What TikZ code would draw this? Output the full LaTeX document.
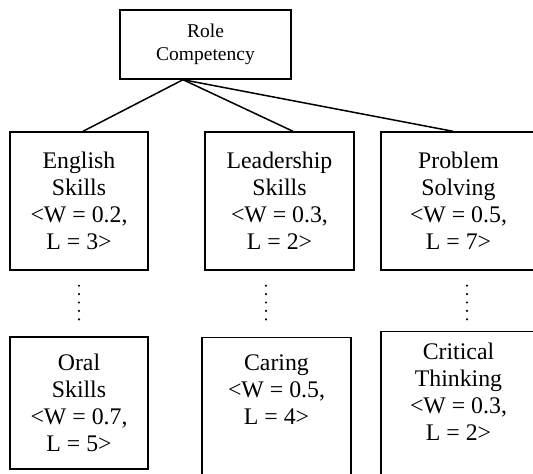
\documentclass[tikz,border=0pt]{standalone}
\usepackage{fontspec}
\setmainfont{Liberation Serif}
\usetikzlibrary{positioning}

\begin{document}
\begin{tikzpicture}[
    x=1pt, y=-1pt,
    root/.style={rectangle, draw=black, line width=1.4pt, align=center,
                 minimum width=171pt, minimum height=69pt, inner sep=0pt,
                 font=\fontsize{19.5}{23}\selectfont},
    skill/.style={rectangle, draw=black, line width=1.4pt, align=center,
                  inner sep=0pt, font=\fontsize{23.8}{27}\selectfont},
    link/.style={line width=1.5pt},
    dots/.style={line width=2.4pt, line cap=round, dash pattern=on 0pt off 8.4pt}
]
\useasboundingbox (0,0) rectangle (533,474);
\clip (0,0) rectangle (533,474);

% Root
\node (role) [root] at (205.5,44.5) {Role\\Competency};
\coordinate (hub) at ([xshift=-22.5pt]role.south);

% Main skills
\node (english) [skill, minimum width=138pt, minimum height=138pt] at (79,201)
      {English\\Skills\\<W = 0.2,\\L = 3>};
\node (lead) [skill, minimum width=149pt, minimum height=138pt] at (279.5,201)
      {Leadership\\Skills\\<W = 0.3,\\L = 2>};
\node (prob) [skill, minimum width=155pt, minimum height=138pt] at (458.5,201)
      {Problem\\Solving\\<W = 0.5,\\L = 7>};

% Sub skills
\node (oral) [skill, minimum width=138pt, minimum height=132pt] at (79,403)
      {Oral\\Skills\\<W = 0.7,\\L = 5>};
\node (care) [skill, anchor=north, minimum width=149pt, inner ysep=17pt,
              text depth=80pt] at (276.5,337)
      {Caring\\<W = 0.5,\\L = 4>};
\node (crit) [skill, anchor=north, minimum width=155pt, inner ysep=11.5pt,
              text depth=40pt] at (458.5,331)
      {Critical\\Thinking\\<W = 0.3,\\L = 2>};

% Links
\draw [link] (hub) -- ([xshift=4pt]english.north);
\draw [link] (hub) -- ([xshift=13.5pt]lead.north);
\draw [link] (hub) -- ([xshift=-5.5pt]prob.north);

% Dotted links
\draw [dots, shorten <=15pt, shorten >=10pt] (english.south) -- (oral.north);
\draw [dots, shorten <=15pt, shorten >=10pt] ([xshift=-13.5pt]lead.south) -- ([xshift=-10.5pt]care.north);
\draw [dots, shorten <=15pt, shorten >=4pt] ([xshift=8.5pt]prob.south) -- ([xshift=8.5pt]crit.north);

\end{tikzpicture}
\end{document}
